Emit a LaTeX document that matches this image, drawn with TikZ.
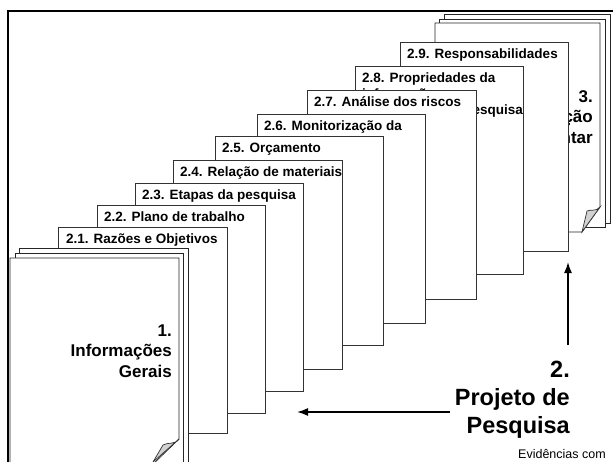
\documentclass[tikz,border=0pt]{standalone}
\usepackage{fontspec}
\setmainfont{Liberation Sans}
\usetikzlibrary{arrows.meta}

\tikzset{
  pagebox/.style={draw=black!80, line width=0.9pt, fill=white},
  sheet/.style={draw=black!85, line width=0.8pt, fill=white},
  curl/.style={draw=black!80, line width=0.7pt, fill=gray!35},
  boxlabel/.style={anchor=base west, inner sep=0pt, font=\bfseries\fontsize{13.5}{16}\selectfont},
  doclabel/.style={align=right, inner sep=0pt, font=\bfseries\fontsize{17}{20.5}\selectfont},
  mainlabel/.style={align=right, inner sep=0pt, font=\bfseries\fontsize{23.5}{28}\selectfont},
  pointer/.style={-{Latex[length=11pt,width=8pt]}, line width=1.6pt},
}

\begin{document}
\begin{tikzpicture}[x=1pt, y=-1pt]
	\useasboundingbox (0,0) rectangle (613,461);
	\clip (0,0) rectangle (613,461);
	% frame of the slide
	\draw[line width=2pt] (8,470) -- (8,11) -- (620,11);

	% 3. stack of sheets
	\draw[sheet] (444,14) rectangle (610,223);
	\draw[sheet] (439,19) rectangle (605,227);
	\draw[sheet] (435,23) -- (600,23) -- (600,207) -- (582,232) -- (435,232) -- cycle;
	\draw[curl] (600,207) .. controls (596,212) and (591,209) .. (587,211) -- (582,232) -- cycle;
	\draw (593,143) node[doclabel, anchor=base east] (annex) {3.\\ção\\ntar};

	% 2.x pages
	\draw[pagebox] (400,42) rectangle (568,251);
	\draw (407,58) node[boxlabel] (resp) {2.9. Responsabilidades};
	\draw[pagebox] (355,66) rectangle (523,274);
	\draw (362,82) node[boxlabel] (prop) {2.8. Propriedades da};
	\draw (362,98) node[boxlabel] (propb) {informação};
	\draw (523,114) node[boxlabel, anchor=base east] (propc) {pesquisa};
	\draw[pagebox] (307,90) rectangle (476,299);
	\draw (314,106) node[boxlabel] (risk) {2.7. Análise dos riscos};
	\draw[pagebox] (257,114) rectangle (425,323);
	\draw (264,130) node[boxlabel] (monit) {2.6. Monitorização da};
	\draw[pagebox] (215,136) rectangle (383,345);
	\draw (222,152) node[boxlabel] (budget) {2.5. Orçamento};
	\draw[pagebox] (173,160) rectangle (342,369);
	\draw (180,176) node[boxlabel] (mater) {2.4. Relação de materiais};
	\draw[pagebox] (135,183) rectangle (303,391);
	\draw (142,199) node[boxlabel] (steps) {2.3. Etapas da pesquisa};
	\draw[pagebox] (97,205) rectangle (265,413);
	\draw (104,221) node[boxlabel] (plan) {2.2. Plano de trabalho};
	\draw[pagebox] (58,227) rectangle (227,433);
	\draw (66,243) node[boxlabel] (reason) {2.1. Razões e Objetivos};

	% 1. stack of sheets
	\draw[sheet] (19,248) rectangle (188,470);
	\draw[sheet] (15,253) rectangle (183,470);
	\draw[sheet] (10,258) -- (179,258) -- (179,439) -- (151,466) -- (10,466) -- cycle;
	\draw[curl] (179,439) .. controls (175,445) and (168,442) .. (163,445) -- (153,462) -- cycle;
	\draw (172,377) node[doclabel, anchor=base east] (info) {1.\\Informações\\Gerais};

	% 2. title and arrows
	\draw (570,433) node[mainlabel, anchor=base east] (project) {2.\\Projeto de\\Pesquisa};
	\coordinate (upfrom) at (568,345);
	\coordinate (upto) at (568,262);
	\draw[pointer] (upfrom) -- (upto);
	\coordinate (leftfrom) at (450,412);
	\coordinate (leftto) at (297,412);
	\draw[pointer] (leftfrom) -- (leftto);

	\draw (518,458) node[anchor=base west, inner sep=0pt, font=\fontsize{12.5}{14}\selectfont] (source) {Evidências com};
\end{tikzpicture}
\end{document}
